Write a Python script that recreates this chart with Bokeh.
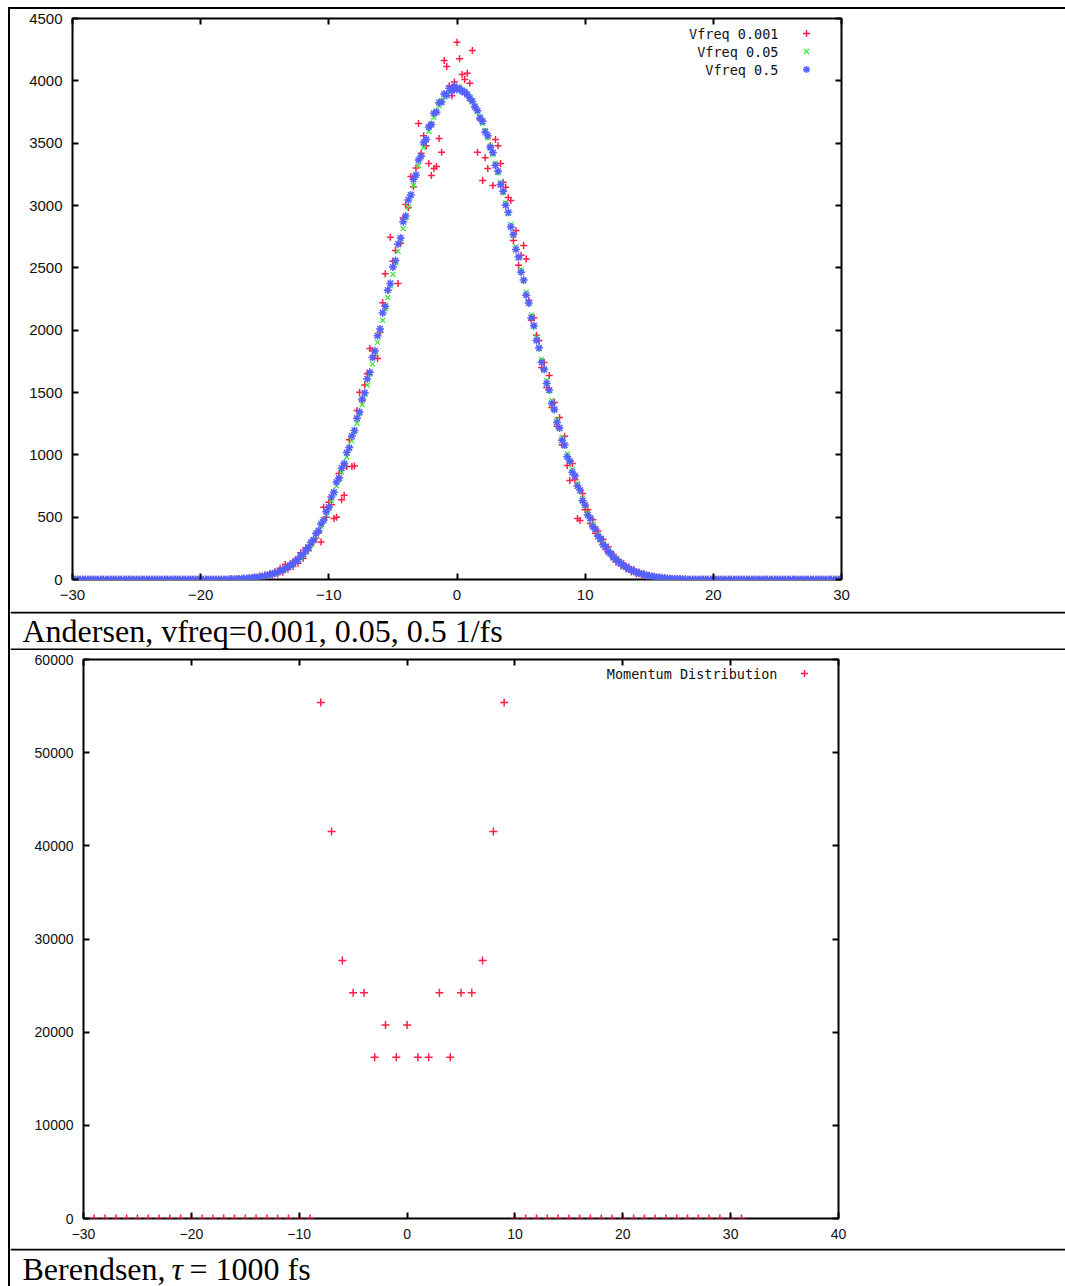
from bokeh.plotting import figure
from bokeh.layouts import column
from bokeh.models import (Range1d, LinearAxis, FixedTicker, Legend, LegendItem,
                          Label, Span, ColumnDataSource)
from bokeh.embed import file_html
from bokeh.resources import INLINE

# ------------------------------------------------------------------
# Andersen thermostat: velocity-component histograms (bin width 0.2)
# ------------------------------------------------------------------
bin_start = -30.0
bin_step = 0.2
n_bins = 301
velocity = [round(bin_start + bin_step * i, 1) for i in range(n_bins)]

# empty bins, x = -30.0 ... -18.2 and x = 18.2 ... 30.0
tail_left = [0, 0, 0, 0, 0, 0, 0, 0, 0, 0,
             0, 0, 0, 0, 0, 0, 0, 0, 0, 0,
             0, 0, 0, 0, 0, 0, 0, 0, 0, 0,
             0, 0, 0, 0, 0, 0, 0, 0, 0, 0,
             0, 0, 0, 0, 0, 0, 0, 0, 0, 0,
             0, 0, 0, 0, 0, 0, 0, 0, 0, 0]
tail_right = [0, 0, 0, 0, 0, 0, 0, 0, 0, 0,
              0, 0, 0, 0, 0, 0, 0, 0, 0, 0,
              0, 0, 0, 0, 0, 0, 0, 0, 0, 0,
              0, 0, 0, 0, 0, 0, 0, 0, 0, 0,
              0, 0, 0, 0, 0, 0, 0, 0, 0, 0,
              0, 0, 0, 0, 0, 0, 0, 0, 0, 0]

# x = -18.0 ... 18.0 (one row per unit of x)
vfreq_0001_core = [
    0, 0, 8, 2, 0,            # -18
    6, 4, 10, 6, 14,          # -17
    10, 20, 12, 28, 18,       # -16
    36, 26, 48, 34, 62,       # -15
    44, 90, 58, 120, 82,      # -14
    128, 104, 160, 130, 215,  # -13
    170, 255, 230, 275, 300,  # -12
    330, 380, 300, 580, 500,  # -11
    620, 600, 490, 500, 850,  # -10
    640, 675, 906, 1120, 906,     # -9
    910, 1356, 1503, 1436, 1560,  # -8
    1650, 1853, 1837, 1797, 1773,  # -7
    1984, 2220, 2452, 2320, 2746,  # -6
    2553, 2640, 2374, 2698, 2900,  # -5
    3008, 2983, 3232, 3150, 3300,  # -4
    3657, 3420, 3560, 3480, 3337,  # -3
    3240, 3297, 3313, 3537, 3427,  # -2
    4163, 4115, 3960, 3880, 3990,  # -1
    4310, 4177, 4050, 4010, 4061,  # 0
    3981, 4243, 3788, 3427, 3690,  # 1
    3200, 3384, 3297, 3480, 3160,  # 2
    3530, 3480, 3337, 3187, 3147,  # 3
    3065, 3040, 2720, 2800, 2520,  # 4
    2600, 2680, 2570, 2240, 2080,  # 5
    2100, 1960, 1917, 1700, 1740,  # 6
    1540, 1636, 1380, 1420, 1230,  # 7
    1300, 1080, 1150, 914, 794,    # 8
    930, 800, 490, 473, 690,       # 9
    560, 560, 450, 480, 370,       # 10
    390, 305, 320, 240, 260,       # 11
    190, 200, 140, 160, 110,       # 12
    130, 85, 100, 60, 80,          # 13
    45, 60, 32, 48, 22,            # 14
    35, 18, 26, 12, 20,            # 15
    8, 14, 5, 10, 3,               # 16
    6, 2, 8, 1, 3,                 # 17
    0,                             # 18
]
vfreq_005_core = [
    0, 1, 2, 2, 3,
    4, 5, 6, 8, 9,
    11, 13, 16, 19, 22,
    27, 31, 36, 42, 48,
    55, 64, 72, 84, 93,
    108, 120, 138, 152, 176,
    196, 222, 248, 278, 312,
    346, 386, 428, 470, 522,
    574, 632, 694, 752, 806,
    862, 925, 982, 1050, 1112,
    1185, 1252, 1330, 1402, 1485,
    1560, 1648, 1728, 1815, 1902,
    1992, 2080, 2172, 2262, 2355,
    2448, 2540, 2632, 2722, 2815,
    2902, 2990, 3080, 3160, 3242,
    3320, 3395, 3465, 3532, 3596,
    3655, 3708, 3758, 3800, 3840,
    3870, 3898, 3918, 3932, 3940,
    3945, 3940, 3930, 3915, 3895,
    3868, 3838, 3800, 3758, 3712,
    3660, 3603, 3542, 3478, 3410,
    3338, 3262, 3185, 3104, 3020,
    2935, 2848, 2760, 2670, 2580,
    2488, 2396, 2304, 2212, 2120,
    2030, 1940, 1852, 1765, 1680,
    1596, 1514, 1435, 1358, 1283,
    1210, 1140, 1072, 1007, 944,
    882, 826, 770, 712, 652,
    592, 536, 486, 441, 400,
    360, 325, 290, 260, 232,
    206, 183, 162, 144, 127,
    112, 99, 87, 76, 67,
    58, 51, 44, 38, 33,
    28, 24, 20, 17, 14,
    12, 10, 8, 6, 5,
    4, 3, 2, 2, 1,
    1,
]
vfreq_05_core = [
    1, 2, 2, 3, 4,
    5, 6, 8, 9, 10,
    13, 16, 17, 22, 24,
    30, 33, 40, 44, 53,
    58, 70, 76, 90, 98,
    115, 126, 148, 160, 188,
    203, 236, 255, 296, 318,
    368, 392, 447, 478, 544,
    581, 661, 700, 782, 814,
    893, 930, 1018, 1058, 1151,
    1196, 1294, 1343, 1447, 1498,
    1610, 1662, 1780, 1834, 1955,
    2010, 2138, 2192, 2321, 2375,
    2506, 2558, 2690, 2740, 2870,
    2915, 3045, 3085, 3210, 3245,
    3365, 3395, 3505, 3530, 3630,
    3650, 3740, 3748, 3825, 3830,
    3895, 3885, 3940, 3920, 3955,
    3930, 3940, 3915, 3910, 3890,
    3860, 3835, 3790, 3760, 3700,
    3675, 3590, 3560, 3465, 3425,
    3322, 3275, 3168, 3115, 3002,
    2945, 2828, 2768, 2648, 2586,
    2465, 2402, 2281, 2218, 2098,
    2036, 1917, 1858, 1742, 1686,
    1573, 1520, 1412, 1364, 1260,
    1216, 1117, 1078, 984, 950,
    860, 832, 750, 717, 632,
    596, 518, 490, 424, 404,
    346, 328, 278, 262, 222,
    210, 176, 165, 139, 130,
    108, 101, 84, 78, 65,
    60, 50, 46, 37, 35,
    27, 26, 20, 19, 14,
    14, 10, 9, 7, 6,
    5, 4, 3, 2, 2,
    1,
]
vfreq_0001 = tail_left + vfreq_0001_core + tail_right
vfreq_005 = tail_left + vfreq_005_core + tail_right
vfreq_05 = tail_left + vfreq_05_core + tail_right
assert len(vfreq_0001) == len(vfreq_005) == len(vfreq_05) == n_bins

series_labels = ["Vfreq 0.001", "Vfreq 0.05", "Vfreq 0.5"]
andersen_xticks = [-30, -20, -10, 0, 10, 20, 30]
andersen_yticks = [0, 500, 1000, 1500, 2000, 2500, 3000, 3500, 4000, 4500]

# ------------------------------------------------------------------
# Berendsen thermostat: momentum distribution
# ------------------------------------------------------------------
momentum = list(range(-29, 32))
momentum_count = [
    0, 0, 0, 0, 0, 0, 0, 0, 0, 0,          # -29 .. -20
    0, 0, 0, 0, 0, 0, 0, 0, 0, 0, 0,       # -19 .. -9
    55392, 41544, 27696, 24234, 24234,     # -8 .. -4
    17310, 20772, 17310, 20772, 17310,     # -3 .. 1
    17310, 24234, 17310, 24234, 24234,     # 2 .. 6
    27696, 41544, 55392,                   # 7 .. 9
    0, 0, 0, 0, 0, 0, 0, 0, 0, 0, 0,       # 10 .. 20
    0, 0, 0, 0, 0, 0, 0, 0, 0, 0, 0,       # 21 .. 31
]
assert len(momentum) == len(momentum_count)
berendsen_label = "Momentum Distribution"
berendsen_xticks = [-30, -20, -10, 0, 10, 20, 30, 40]
berendsen_yticks = [0, 10000, 20000, 30000, 40000, 50000, 60000]

RED = "#ff1f4a"
GREEN = "#3ee63e"
BLUE = "#5560ff"
PAGE_W = 1055


def make_axis(ticks, size, labels=True, standoff=10):
    ax = LinearAxis(ticker=FixedTicker(ticks=ticks))
    ax.axis_line_color = None
    ax.major_tick_in = 6
    ax.major_tick_out = 0
    ax.major_tick_line_width = 2
    ax.major_tick_line_color = "black"
    ax.minor_tick_line_color = None
    ax.major_label_text_font = "Liberation Sans"
    ax.major_label_text_font_size = size
    ax.major_label_text_color = "#111111"
    ax.major_label_standoff = standoff
    if not labels:
        ax.major_label_overrides = {t: "" for t in ticks}
        ax.major_label_text_font_size = "1px"
        ax.major_label_standoff = 0
    return ax


def gnuplot_figure(height, xr, yr, left, right, top, bottom, xticks, yticks, size):
    p = figure(width=PAGE_W, height=height, x_range=Range1d(*xr), y_range=Range1d(*yr),
               output_backend="svg", toolbar_location=None,
               x_axis_location=None, y_axis_location=None,
               min_border_left=left, min_border_right=right,
               min_border_top=top, min_border_bottom=bottom, frame_align=False)
    p.xgrid.visible = False
    p.ygrid.visible = False
    p.background_fill_color = "white"
    p.border_fill_color = "white"
    p.outline_line_color = "black"
    p.outline_line_width = 2
    p.outline_line_alpha = 1.0
    p.add_layout(make_axis(xticks, size, True, 10), "below")
    p.add_layout(make_axis(yticks, size, True, 10), "left")
    p.add_layout(make_axis(xticks, size, False), "above")
    p.add_layout(make_axis(yticks, size, False), "right")
    return p


def marker_legend(renderers, loc):
    return Legend(items=[LegendItem(label=" ", renderers=[r]) for r in renderers],
                  location=loc, orientation="vertical", padding=0, margin=0, spacing=0,
                  glyph_width=18, glyph_height=18, label_height=18, label_width=1,
                  label_standoff=0, label_text_font_size="6px",
                  border_line_color=None, background_fill_alpha=0)


# ---------------- chart 1 ----------------
p1 = gnuplot_figure(602, (andersen_xticks[0], andersen_xticks[-1]),
                    (andersen_yticks[0], andersen_yticks[-1]),
                    62, PAGE_W - 831, 9, 32, andersen_xticks, andersen_yticks, "15px")
src1 = ColumnDataSource(dict(v=velocity, a=vfreq_0001, b=vfreq_005, c=vfreq_05))
r1 = p1.scatter("v", "a", source=src1, marker="cross", size=7, line_color=RED, line_width=1.5)
r2 = p1.scatter("v", "b", source=src1, marker="x", size=7, line_color=GREEN, line_width=1.3)
r3 = p1.scatter("v", "c", source=src1, marker="asterisk", size=8, line_color=BLUE, line_width=1.5)

p1.add_layout(marker_legend((r1, r2, r3), (725, 501)))
for lab, yy in zip(series_labels, (546, 528, 510)):
    p1.add_layout(Label(x=706, y=yy, x_units="screen", y_units="screen", text=lab,
                        text_align="right", text_baseline="middle",
                        text_font="DejaVu Sans Mono", text_font_size="13.5px",
                        text_color="#111111"))


# ---------------- captions ----------------
def caption_figure(height):
    c = figure(width=PAGE_W, height=height, x_range=Range1d(0, PAGE_W), y_range=Range1d(0, height),
               output_backend="svg", toolbar_location=None,
               x_axis_location=None, y_axis_location=None,
               min_border_left=0, min_border_right=0, min_border_top=0, min_border_bottom=0,
               frame_align=False)
    c.xgrid.visible = False
    c.ygrid.visible = False
    c.outline_line_color = None
    c.background_fill_color = "white"
    c.border_fill_color = "white"
    return c


CAP_FONT = dict(text_font="Liberation Serif", text_font_size="32px",
                text_baseline="bottom", text_color="black")

c1 = caption_figure(39)
c1.add_layout(Span(location=38, dimension="width", line_color="black", line_width=2))
c1.add_layout(Span(location=1, dimension="width", line_color="black", line_width=2))
c1.add_layout(Label(x=12, y=2, text="Andersen, vfreq=0.001, 0.05, 0.5 1/fs", **CAP_FONT))

# ---------------- chart 2 ----------------
p2 = gnuplot_figure(598, (berendsen_xticks[0], berendsen_xticks[-1]),
                    (berendsen_yticks[0], berendsen_yticks[-1]),
                    73, PAGE_W - 828, 9, 30, berendsen_xticks, berendsen_yticks, "14px")
src2 = ColumnDataSource(dict(m=momentum, n=momentum_count))
rb = p2.scatter("m", "n", source=src2, marker="cross", size=8, line_color=RED, line_width=1.5)
p2.add_layout(marker_legend((rb,), (712, 536)))
p2.add_layout(Label(x=694, y=545, x_units="screen", y_units="screen", text=berendsen_label,
                    text_align="right", text_baseline="middle",
                    text_font="DejaVu Sans Mono", text_font_size="13.5px", text_color="#111111"))

c2 = caption_figure(38)
c2.add_layout(Span(location=37, dimension="width", line_color="black", line_width=2))
c2.add_layout(Label(x=12, y=0, text="Berendsen,", **CAP_FONT))
c2.add_layout(Label(x=161, y=0, text="τ", text_font_style="italic", **CAP_FONT))
c2.add_layout(Label(x=179, y=0, text="= 1000 fs", **CAP_FONT))

layout = column(p1, c1, p2, c2,
                styles={"margin": "7px 0px 0px 8px",
                        "border-left": "2px solid black", "border-top": "2px solid black"})

open("out.html", "w").write(file_html(layout, INLINE))
